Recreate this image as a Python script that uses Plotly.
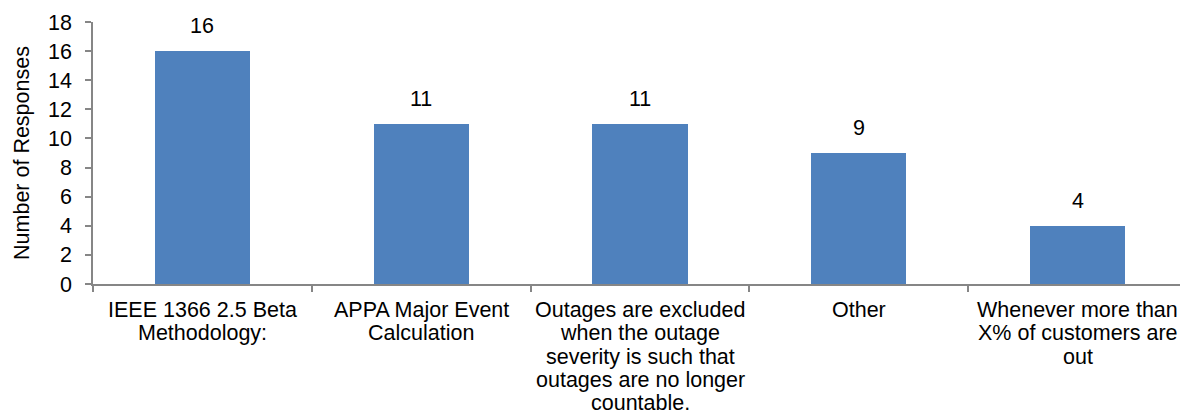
import plotly.graph_objects as go

categories = [
    "IEEE 1366 2.5 Beta<br>Methodology:",
    "APPA Major Event<br>Calculation",
    "Outages are excluded<br>when the outage<br>severity is such that<br>outages are no longer<br>countable.",
    "Other",
    "Whenever more than<br>X% of customers are<br>out",
]
responses = [16, 11, 11, 9, 4]
y_ticks = [0, 2, 4, 6, 8, 10, 12, 14, 16, 18]

FONT = "Liberation Sans, Arial, sans-serif"
FS = 21.5
AXIS_COLOR = "#868686"

FIG_W = 1180
FIG_H = 414

fig = go.Figure()
fig.add_trace(go.Bar(
    x=categories,
    y=responses,
    marker=dict(color="#4F81BD", line=dict(width=0)),
    width=0.435,
    hoverinfo="x+y",
))

annotations = []
for c, v in zip(categories, responses):
    annotations.append(dict(
        x=c, y=v, xref="x", yref="y", text=str(v), showarrow=False,
        yanchor="middle", yshift=25, font=dict(family=FONT, size=FS, color="#000000"),
    ))
LINE = 23.3
for c in categories:
    for i, line in enumerate(c.split("<br>")):
        annotations.append(dict(
            x=c, y=0, xref="x", yref="y", text=line, showarrow=False,
            yanchor="middle", xanchor="center", yshift=-26 - i * LINE,
            font=dict(family=FONT, size=FS, color="#000000"),
        ))

plot_left = 93
plot_top = 22
plot_bottom = 284
cat_px = 218.8
right_val = -0.5 + (FIG_W - plot_left) / cat_px

fig.update_layout(
    width=FIG_W, height=FIG_H,
    margin=dict(l=plot_left, r=0, t=plot_top, b=FIG_H - plot_bottom),
    paper_bgcolor="white", plot_bgcolor="white",
    font=dict(family=FONT, size=FS, color="#000000"),
    showlegend=False,
    bargap=0,
    annotations=annotations,
    xaxis=dict(
        type="category",
        range=[-0.5, right_val],
        showticklabels=False,
        showline=True, linecolor=AXIS_COLOR, linewidth=1.5,
        ticks="outside", tickson="boundaries", ticklen=6, tickcolor=AXIS_COLOR, tickwidth=1.5,
        showgrid=False, zeroline=False,
    ),
    yaxis=dict(
        range=[0, 18],
        tickvals=y_ticks,
        ticktext=[str(t) for t in y_ticks],
        showline=True, linecolor=AXIS_COLOR, linewidth=1.5,
        ticks="outside", ticklen=6, tickcolor=AXIS_COLOR, tickwidth=1.5,
        ticklabelstandoff=9,
        tickfont=dict(family=FONT, size=FS, color="#000000"),
        showgrid=False, zeroline=False,
        title=dict(text="Number of Responses", standoff=13,
                   font=dict(family=FONT, size=FS, color="#000000")),
    ),
)

fig.write_html(
    "out.html",
    config={"displayModeBar": False},
    post_script="document.body.style.margin='0';document.body.style.overflow='hidden';",
)
